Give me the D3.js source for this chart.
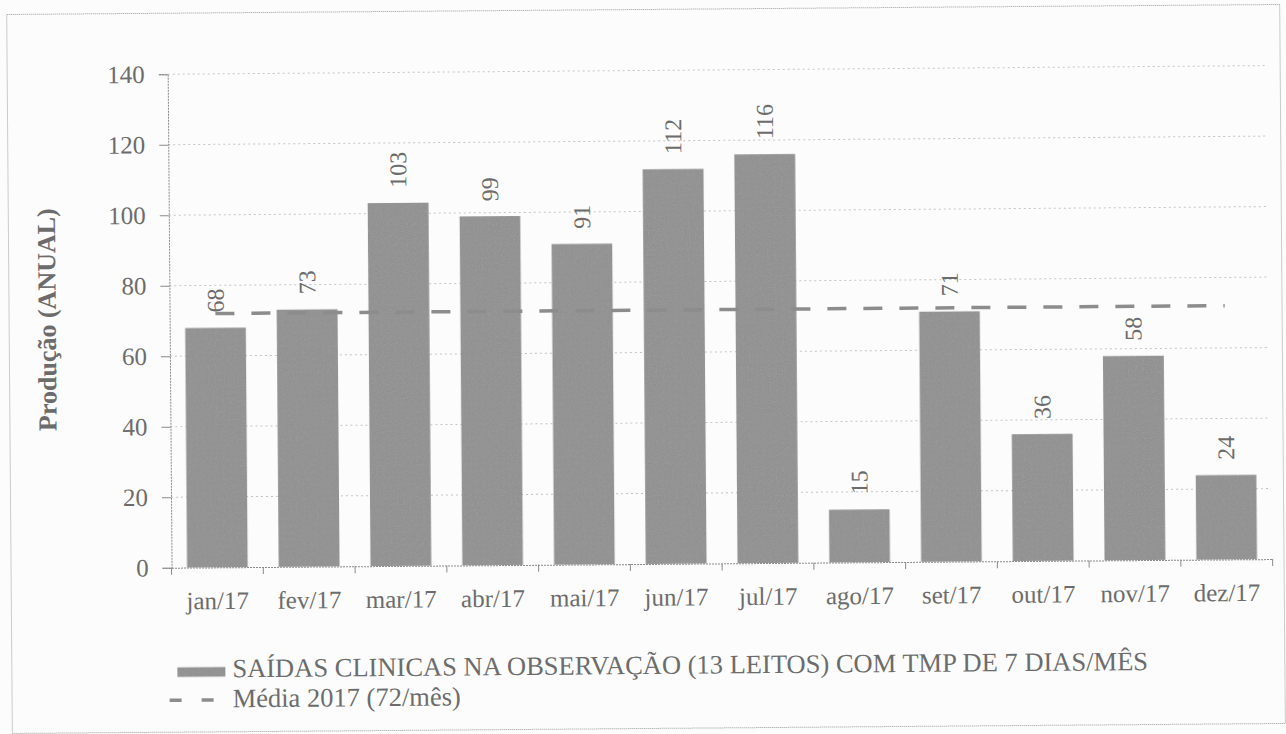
<!DOCTYPE html>
<html>
<head>
<meta charset="utf-8">
<script src="https://cdn.jsdelivr.net/npm/d3@7"></script>
<style>
	body { margin: 0; background: #fcfcfc; }
</style>
</head>
<body>
<div id="chartbox"></div>
<script>
var months = ["jan/17", "fev/17", "mar/17", "abr/17", "mai/17", "jun/17",
	"jul/17", "ago/17", "set/17", "out/17", "nov/17", "dez/17"];
var saidas = [68, 73, 103, 99, 91, 112, 116, 15, 71, 36, 58, 24];
var media = 72;
var yTicks = [0, 20, 40, 60, 80, 100, 120, 140];
var legendLabels = [
	"SAÍDAS CLINICAS NA OBSERVAÇÃO (13 LEITOS) COM TMP DE 7 DIAS/MÊS",
	"Média 2017 (72/mês)"
];
var yTitle = "Produção (ANUAL)";

var WIDTH = 1286;
var HEIGHT = 734;
var FONT = "'Liberation Serif', 'Times New Roman', serif";
var TEXT_COLOR = "#6c6c6c";
var BAR_COLOR = "#9e9e9e";

var svg = d3.select("#chartbox").append("svg")
	.attr("width", WIDTH)
	.attr("height", HEIGHT)
	.attr("font-family", FONT);

// scanner grain on the filled marks
var grain = svg.append("defs").append("filter")
	.attr("id", "grain")
	.attr("x", 0).attr("y", 0).attr("width", 1).attr("height", 1);
grain.append("feTurbulence")
	.attr("type", "fractalNoise")
	.attr("baseFrequency", 0.85)
	.attr("numOctaves", 1)
	.attr("seed", 3)
	.attr("result", "noise");
grain.append("feColorMatrix")
	.attr("in", "noise")
	.attr("type", "saturate")
	.attr("values", 0)
	.attr("result", "grey");
grain.append("feComposite")
	.attr("in", "SourceGraphic")
	.attr("in2", "grey")
	.attr("operator", "arithmetic")
	.attr("k1", 0).attr("k2", 1).attr("k3", 0.22).attr("k4", -0.11)
	.attr("result", "mixed");
grain.append("feComposite")
	.attr("in", "mixed")
	.attr("in2", "SourceAlpha")
	.attr("operator", "in");

// the scanned page is slightly tilted
var page = svg.append("g")
	.attr("transform", "rotate(-0.45, 643, 367)");

page.append("rect")
	.attr("x", 9.5).attr("y", 9.5)
	.attr("width", 1273).attr("height", 719)
	.attr("fill", "none")
	.attr("stroke", "#9a9a9a")
	.attr("stroke-width", 1)
	.attr("stroke-dasharray", "1 1");

var x = d3.scaleBand()
	.domain(months)
	.range([170, 1271])
	.paddingInner(0.335)
	.paddingOuter(0.167);

var y = d3.scaleLinear()
	.domain([0, 140])
	.range([564, 70.5]);

//gridlines
page.append("g")
	.selectAll("line")
	.data(yTicks.slice(1))
	.enter().append("line")
	.attr("x1", 170).attr("x2", 1268)
	.attr("y1", function (d) { return y(d); })
	.attr("y2", function (d) { return y(d); })
	.attr("stroke", "#c4c4c4")
	.attr("stroke-width", 1)
	.attr("stroke-dasharray", "2 3");

var yAxis = page.append("g")
	.attr("transform", "translate(170,0)")
	.call(d3.axisLeft(y).tickValues(yTicks).tickSize(9).tickPadding(14));

var xAxis = page.append("g")
	.attr("transform", "translate(0," + y(0) + ")")
	.call(d3.axisBottom(x).tickSize(0).tickPadding(24));

// ticks between categories, like the spreadsheet does
page.append("g")
	.selectAll("line")
	.data(d3.range(months.length + 1))
	.enter().append("line")
	.attr("x1", function (i) { return 170 + i * x.step(); })
	.attr("x2", function (i) { return 170 + i * x.step(); })
	.attr("y1", y(0))
	.attr("y2", y(0) + 7)
	.attr("stroke", "#8a8a8a");

[yAxis, xAxis].forEach(function (axis) {
	axis.attr("font-family", FONT);
	axis.select(".domain").attr("stroke", "#8a8a8a").attr("stroke-dasharray", "2 1");
	axis.selectAll(".tick line").attr("stroke", "#8a8a8a");
	axis.selectAll("text")
		.attr("font-family", FONT)
		.attr("font-size", "25px")
		.attr("fill", TEXT_COLOR);
});

page.selectAll(".bar")
	.data(saidas)
	.enter().append("rect")
	.attr("class", "bar")
	.attr("x", function (d, i) { return x(months[i]); })
	.attr("y", function (d) { return y(d); })
	.attr("width", x.bandwidth())
	.attr("height", function (d) { return y(0) - y(d); })
	.attr("fill", BAR_COLOR)
	.attr("filter", "url(#grain)");

page.append("line")
	.attr("x1", x(months[0]) + x.bandwidth() / 2)
	.attr("x2", x(months[months.length - 1]) + x.bandwidth() / 2)
	.attr("y1", y(media))
	.attr("y2", y(media))
	.attr("stroke", "#8c8c8c")
	.attr("stroke-width", 3.5)
	.attr("stroke-dasharray", "19 17");

page.selectAll(".value")
	.data(saidas)
	.enter().append("text")
	.attr("class", "value")
	.attr("transform", function (d, i) {
		return "translate(" + (x(months[i]) + x.bandwidth() / 2) + "," + (y(d) - 15) + ") rotate(-90)";
	})
	.attr("dy", "0.35em")
	.attr("font-family", FONT)
	.attr("font-size", "24px")
	.attr("fill", TEXT_COLOR)
	.text(function (d) { return d; });

page.append("text")
	.attr("transform", "translate(47,315) rotate(-90)")
	.attr("text-anchor", "middle")
	.attr("dy", "0.35em")
	.attr("font-family", FONT)
	.attr("font-size", "26px")
	.attr("font-weight", "bold")
	.attr("fill", TEXT_COLOR)
	.text(yTitle);

//legend
var legend = page.append("g");

legend.append("rect")
	.attr("x", 175).attr("y", 663.5)
	.attr("width", 48).attr("height", 10)
	.attr("fill", BAR_COLOR)
	.attr("filter", "url(#grain)");

legend.append("line")
	.attr("x1", 167).attr("x2", 211)
	.attr("y1", 696.5).attr("y2", 696.5)
	.attr("stroke", "#8c8c8c")
	.attr("stroke-width", 3.5)
	.attr("stroke-dasharray", "12 20");

legend.selectAll(".legend-label")
	.data(legendLabels)
	.enter().append("text")
	.attr("class", "legend-label")
	.attr("x", 230)
	.attr("y", function (d, i) { return 674 + i * 30; })
	.attr("font-family", FONT)
	.attr("font-size", "26.5px")
	.attr("fill", TEXT_COLOR)
	.text(function (d) { return d; });
</script>
</body>
</html>
